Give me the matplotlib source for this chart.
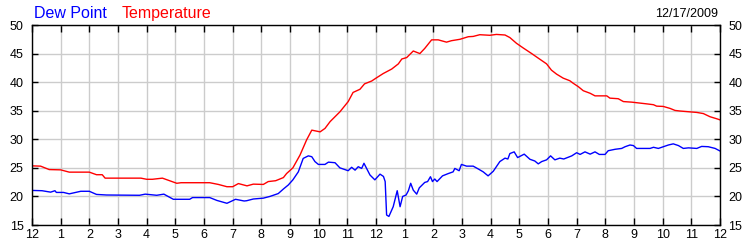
import matplotlib
matplotlib.use("Agg")
import matplotlib.pyplot as plt

# hours after midnight and readings (deg F)
temp_hours = [0, 0.3, 0.6, 1.0, 1.3, 2.0, 2.25, 2.45, 2.55, 3.8, 4.0, 4.2, 4.55,
              5.05, 5.2, 6.2, 6.5, 6.8, 7.0, 7.2, 7.5, 7.72, 8.07, 8.24, 8.5,
              8.77, 8.88, 9.1, 9.35, 9.58, 9.76, 10.05, 10.22, 10.4, 10.74,
              11.03, 11.2, 11.44, 11.6, 11.85, 12.0, 12.25, 12.55, 12.78, 12.9,
              13.07, 13.3, 13.53, 13.7, 13.94, 14.17, 14.46, 14.63, 14.93, 15.22,
              15.39, 15.62, 15.97, 16.2, 16.5, 16.67, 16.9, 17.13, 17.43, 17.66,
              17.95, 18.12, 18.3, 18.53, 18.76, 18.88, 19.06, 19.23, 19.47, 19.64,
              20.05, 20.16, 20.45, 20.63, 20.92, 21.44, 21.68, 21.79, 22.02, 22.26,
              22.43, 22.6, 22.95, 23.19, 23.42, 23.65, 23.88, 24.0]
temperature = [25.35, 25.3, 24.7, 24.65, 24.25, 24.25, 23.8, 23.8, 23.2, 23.2, 23.0, 23.0, 23.2,
               22.3, 22.4, 22.4, 22.1, 21.7, 21.7, 22.25, 21.85, 22.15, 22.1, 22.6, 22.75,
               23.3, 24.0, 25.0, 27.25, 29.9, 31.6, 31.3, 31.9, 33.1, 34.8,
               36.6, 38.2, 38.75, 39.7, 40.2, 40.7, 41.5, 42.3, 43.2, 44.05,
               44.3, 45.45, 45.0, 45.9, 47.4, 47.4, 47.0, 47.25, 47.5, 47.95,
               48.0, 48.3, 48.2, 48.35, 48.25, 47.8, 46.8, 46.0, 45.0, 44.2,
               43.2, 42.1, 41.4, 40.7, 40.25, 39.8, 39.2, 38.5, 38.05, 37.6,
               37.6, 37.2, 37.1, 36.6, 36.5, 36.2, 36.05, 35.8, 35.75, 35.4,
               35.05, 34.95, 34.8, 34.7, 34.5, 33.95, 33.6, 33.4]

dew_hours = [0, 0.35, 0.65, 0.8, 0.85, 1.1, 1.3, 1.7, 2.0, 2.25, 2.6, 3.75, 3.95,
             4.35, 4.6, 4.93, 5.5, 5.6, 6.2, 6.45, 6.8, 7.1, 7.4, 7.49, 7.72,
             8.07, 8.3, 8.59, 8.77, 8.94, 9.1, 9.29, 9.46, 9.64, 9.76, 9.87,
             9.99, 10.22, 10.34, 10.57, 10.74, 11.03, 11.15, 11.27, 11.38, 11.5,
             11.58, 11.79, 11.96, 12.14, 12.26, 12.32, 12.37, 12.45, 12.6, 12.74,
             12.84, 12.93, 13.05, 13.13, 13.21, 13.3, 13.42, 13.51, 13.7, 13.8,
             13.9, 13.97, 14.05, 14.13, 14.32, 14.52, 14.69, 14.75, 14.9, 14.98,
             15.16, 15.39, 15.57, 15.74, 15.91, 16.09, 16.32, 16.5, 16.6, 16.67,
             16.82, 16.94, 17.17, 17.37, 17.54, 17.66, 17.78, 17.95, 18.09, 18.24,
             18.41, 18.55, 18.7, 18.83, 19.0, 19.12, 19.29, 19.47, 19.64, 19.79,
             19.99, 20.1, 20.34, 20.57, 20.69, 20.86, 20.98, 21.09, 21.56, 21.68,
             21.85, 22.02, 22.2, 22.37, 22.55, 22.72, 22.9, 23.19, 23.36, 23.59,
             23.83, 24.0]
dew_point = [21.05, 21.0, 20.75, 21.0, 20.7, 20.7, 20.45, 20.9, 20.9, 20.35, 20.25, 20.2, 20.4,
             20.2, 20.4, 19.5, 19.5, 19.8, 19.8, 19.3, 18.8, 19.5, 19.2, 19.25, 19.55,
             19.7, 20.0, 20.5, 21.3, 22.0, 22.9, 24.3, 26.65, 27.1, 26.95, 26.1,
             25.6, 25.6, 26.0, 25.9, 25.0, 24.5, 25.1, 24.6, 25.2, 24.9,
             25.8, 23.75, 22.9, 23.9, 23.5, 22.6, 16.75, 16.5, 18.2, 21.0,
             18.2, 20.0, 20.25, 21.0, 22.3, 21.1, 20.4, 21.5, 22.45, 22.6,
             23.45, 22.6, 23.05, 22.6, 23.6, 24.0, 24.3, 24.9, 24.5, 25.6,
             25.3, 25.3, 24.8, 24.3, 23.6, 24.4, 26.1, 26.7, 26.55, 27.5,
             27.8, 26.8, 27.4, 26.5, 26.2, 25.7, 26.1, 26.4, 27.1, 26.4,
             26.7, 26.55, 26.85, 27.1, 27.65, 27.35, 27.8, 27.4, 27.8, 27.35,
             27.35, 28.0, 28.25, 28.4, 28.7, 29.0, 28.9, 28.4, 28.4, 28.6,
             28.4, 28.7, 29.0, 29.2, 28.9, 28.4, 28.5, 28.4, 28.75, 28.7,
             28.4, 27.95]

hour_labels = ['12', '1', '2', '3', '4', '5', '6', '7', '8', '9', '10', '11',
               '12', '1', '2', '3', '4', '5', '6', '7', '8', '9', '10', '11', '12']
y_ticks = [15, 20, 25, 30, 35, 40, 45, 50]
date_label = '12/17/2009'

plt.rcParams['font.family'] = ['Liberation Sans', 'DejaVu Sans']

fig = plt.figure(figsize=(7.5, 2.5), dpi=100)
ax = fig.add_axes([32 / 750, 0.1, 688 / 750, 0.8])

ax.plot(temp_hours, temperature, color='#ff0000', linewidth=1.0)
ax.plot(dew_hours, dew_point, color='#0000ff', linewidth=1.0)

ax.set_xlim(0, 24)
ax.set_ylim(15, 50)
ax.set_xticks(range(25))
ax.set_xticklabels(hour_labels)
ax.set_yticks(y_ticks)
ax.grid(True, color='#cccccc', linewidth=1.0)
ax.set_axisbelow(True)

ax.tick_params(axis='x', direction='in', length=5, width=1, pad=3,
               labelsize=9, top=True, colors='black')
ax.tick_params(axis='y', direction='in', length=4, width=1, pad=6,
               labelsize=9, right=True, labelright=True)
for s in ax.spines.values():
    s.set_linewidth(1.0)

fig.text(34 / 750, 1 - 18 / 250, 'Dew Point', color='#0000ff', fontsize=11.5, va='baseline')
fig.text(122 / 750, 1 - 18 / 250, 'Temperature', color='#ff0000', fontsize=11.5, va='baseline')
fig.text(718 / 750, 1 - 17 / 250, date_label, color='black', fontsize=9, ha='right', va='baseline')

fig.savefig('out.png', dpi=100)
